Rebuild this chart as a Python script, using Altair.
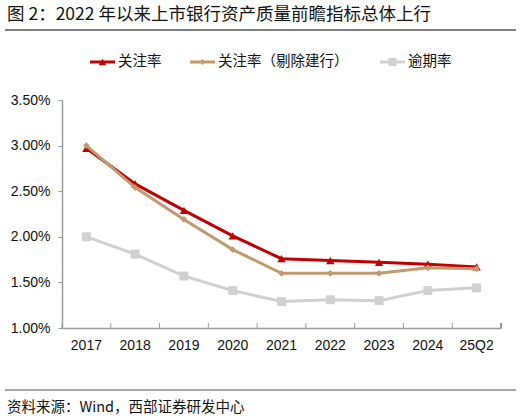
import altair as alt
import pandas as pd

# Categories and series (percent values)
periods = ["2017", "2018", "2019", "2020", "2021", "2022", "2023", "2024", "25Q2"]
series_names = ["关注率", "关注率（剔除建行）", "逾期率"]
attention = [2.97, 2.58, 2.29, 2.01, 1.76, 1.74, 1.72, 1.70, 1.67]
attention_ex_ccb = [3.00, 2.54, 2.19, 1.86, 1.60, 1.60, 1.60, 1.66, 1.65]
overdue = [2.00, 1.81, 1.57, 1.41, 1.29, 1.31, 1.30, 1.41, 1.44]
y_ticks = [1.0, 1.5, 2.0, 2.5, 3.0, 3.5]

title_text = "图 2：2022 年以来上市银行资产质量前瞻指标总体上行"
source_text = "资料来源：Wind，西部证券研发中心"

colors = ["#C00000", "#C29A6E", "#D0D0D0"]
shapes = ["triangle-up", "diamond", "square"]
sizes = [70, 45, 80]

W, H = 439, 228
CJK = "Noto Sans CJK SC"
LAT = "Liberation Sans"

rows = []
for name, vals in zip(series_names, [attention, attention_ex_ccb, overdue]):
    for p, v in zip(periods, vals):
        rows.append({"series": name, "period": p, "value": v / 100})
df = pd.DataFrame(rows)

x_enc = alt.X(
    "period:N",
    sort=periods,
    scale=alt.Scale(domain=periods, paddingInner=0, paddingOuter=0),
    axis=alt.Axis(title=None, ticks=False, labelAngle=0, labelPadding=10,
                  domainColor="#999999", domainWidth=1.5),
)
y_enc = alt.Y(
    "value:Q",
    scale=alt.Scale(domain=[0.01, 0.035], nice=False, zero=False),
    axis=alt.Axis(title=None, format=".2%", values=[t / 100 for t in y_ticks],
                  grid=False, tickSize=4, labelPadding=8,
                  domainColor="#999999", tickColor="#999999", domainWidth=1.5),
)

layers = []
# draw overdue first, then attention, then ex-CCB on top
for idx in [2, 0, 1]:
    name = series_names[idx]
    sub = alt.Chart(df).transform_filter(alt.datum.series == name)
    layers.append(sub.mark_line(color=colors[idx], strokeWidth=3).encode(x=x_enc, y=y_enc))
    layers.append(sub.mark_point(color=colors[idx], filled=True, opacity=1,
                                 shape=shapes[idx], size=sizes[idx]).encode(x=x_enc, y=y_enc))

# inward x-axis ticks at band boundaries
tick_df = pd.DataFrame({"period": periods})
layers.append(
    alt.Chart(tick_df).mark_rule(color="#999999", strokeWidth=1).encode(
        x=alt.X("period:N", sort=periods, bandPosition=0,
                scale=alt.Scale(domain=periods, paddingInner=0, paddingOuter=0)),
        y=alt.value(H), y2=alt.value(H - 5)))
layers.append(alt.Chart(tick_df).mark_rule(color="#999999", strokeWidth=1).encode(
    x=alt.value(W), y=alt.value(H), y2=alt.value(H - 5)))

# legend
leg_df = pd.DataFrame({"series": series_names})
leg_x = [28, 128, 318]
for i, name in enumerate(series_names):
    base = alt.Chart(leg_df).transform_filter(alt.datum.series == name)
    x0 = leg_x[i]
    layers.append(base.mark_rule(color=colors[i], strokeWidth=3).encode(
        x=alt.value(x0), x2=alt.value(x0 + 25), y=alt.value(-38)))
    layers.append(base.mark_point(color=colors[i], filled=True, opacity=1,
                                  shape=shapes[i], size=sizes[i] * 0.8).encode(
        x=alt.value(x0 + 12.5), y=alt.value(-38)))
    layers.append(base.mark_text(align="left", baseline="middle", font=CJK,
                                 fontSize=14.5, color="#111111").encode(
        x=alt.value(x0 + 28), y=alt.value(-38), text="series:N"))

# title, header and footer rules, source note
note_df = pd.DataFrame({"t": [title_text], "s": [source_text]})
note = alt.Chart(note_df)
layers.append(note.mark_text(align="left", baseline="middle", font=CJK,
                             fontSize=17.5, color="#111111").encode(
    x=alt.value(-55), y=alt.value(-85), text="t:N"))
layers.append(note.mark_rule(color="#555555", strokeWidth=1.5).encode(
    x=alt.value(-57), x2=alt.value(454), y=alt.value(-70)))
layers.append(note.mark_rule(color="#888888", strokeWidth=1.5).encode(
    x=alt.value(-57), x2=alt.value(454), y=alt.value(290)))
layers.append(note.mark_text(align="left", baseline="middle", font=CJK,
                             fontSize=14.5, color="#111111").encode(
    x=alt.value(-55), y=alt.value(308), text="s:N"))

chart = alt.layer(*layers).properties(
    width=W, height=H,
    autosize=alt.AutoSizeParams(type="none"),
    padding={"left": 62, "top": 100, "right": 25, "bottom": 92},
).configure_view(stroke=None).configure_axis(
    labelFont=LAT, labelFontSize=14, labelColor="#111111",
)

chart.save("out.html", embed_options={"renderer": "svg", "actions": False})
